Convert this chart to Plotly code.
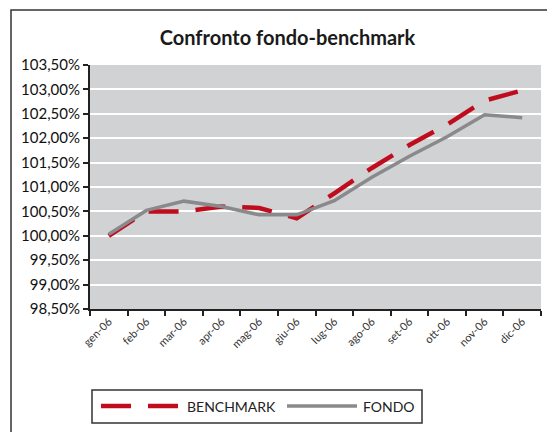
import plotly.graph_objects as go

months = ["gen-06", "feb-06", "mar-06", "apr-06", "mag-06", "giu-06",
          "lug-06", "ago-06", "set-06", "ott-06", "nov-06", "dic-06"]
benchmark = [100.00, 100.50, 100.50, 100.60, 100.57, 100.36,
             100.87, 101.39, 101.86, 102.28, 102.77, 102.98]
fondo = [100.03, 100.52, 100.71, 100.60, 100.43, 100.43,
         100.72, 101.20, 101.63, 102.03, 102.48, 102.42]

RED = "#c00d1e"
GREY = "#8a8a8c"
FONT = "Lato"

# the page body adds an 8px margin, so the figure is offset by 8px
OFF = 8
W, H = 555 - OFF, 432 - OFF
L, R, T, B = 90 - OFF, 14, 65 - OFF, 123
PW, PH = W - L - R, H - T - B


def px(x):
    return (x - OFF - L) / PW


def py(y):
    return (H - B - (y - OFF)) / PH


fig = go.Figure()
fig.add_trace(go.Scatter(x=months, y=benchmark, mode="lines", name="BENCHMARK",
                         line=dict(color=RED, width=4.5, dash="30px,17px"),
                         showlegend=False))
fig.add_trace(go.Scatter(x=months, y=fondo, mode="lines", name="FONDO",
                         line=dict(color=GREY, width=3.5),
                         showlegend=False))

shapes = [
    # outer frame
    dict(type="rect", xref="paper", yref="paper",
         x0=px(11), x1=px(570), y0=py(10), y1=py(450),
         line=dict(color="#333333", width=1.5), layer="below"),
    # legend box
    dict(type="rect", xref="paper", yref="paper",
         x0=px(92), x1=px(422), y0=py(390), y1=py(423),
         line=dict(color="#333333", width=1.5)),
    # legend samples
    dict(type="line", xref="paper", yref="paper",
         x0=px(101), x1=px(179), y0=py(406), y1=py(406),
         line=dict(color=RED, width=4.5, dash="30px,17px")),
    dict(type="line", xref="paper", yref="paper",
         x0=px(287), x1=px(357), y0=py(406), y1=py(406),
         line=dict(color=GREY, width=3.5)),
]

annotations = [
    dict(text="BENCHMARK", xref="paper", yref="paper", x=px(185), y=py(406),
         xanchor="left", yanchor="middle", showarrow=False,
         font=dict(family=FONT, size=14, color="#222222")),
    dict(text="FONDO", xref="paper", yref="paper", x=px(361), y=py(406),
         xanchor="left", yanchor="middle", showarrow=False,
         font=dict(family=FONT, size=14, color="#222222")),
]

fig.update_layout(
    width=W, height=H,
    margin=dict(l=L, r=R, t=T, b=B, autoexpand=False),
    paper_bgcolor="white",
    plot_bgcolor="#d1d2d4",
    separators=",.",
    title=dict(text="<b>Confronto fondo-benchmark</b>",
               x=(287.5 - OFF) / W, xanchor="center",
               y=1 - (38 - OFF) / H, yanchor="middle",
               font=dict(family=FONT, size=20, color="#1a1a1a")),
    font=dict(family=FONT, color="#1a1a1a"),
    shapes=shapes,
    annotations=annotations,
    showlegend=False,
)
fig.update_yaxes(range=[98.5, 103.5], dtick=0.5, tick0=98.5, automargin=False,
                 tickformat=".2f", ticksuffix="%",
                 showgrid=True, gridcolor="white", gridwidth=2,
                 zeroline=False, showline=True, linecolor="#222222", linewidth=2,
                 ticks="outside", ticklen=5, tickwidth=2, tickcolor="#222222",
                 tickfont=dict(family=FONT, size=15, color="#111111"))
fig.update_xaxes(type="category", tickson="boundaries", tickangle=-45,
                 range=[-0.5, 11.5], automargin=False,
                 showgrid=False, zeroline=False,
                 showline=True, linecolor="#222222", linewidth=2,
                 ticks="outside", ticklen=5, tickwidth=2, tickcolor="#222222",
                 tickfont=dict(family=FONT, size=11, color="#333333"))

fig.write_html("out.html")
